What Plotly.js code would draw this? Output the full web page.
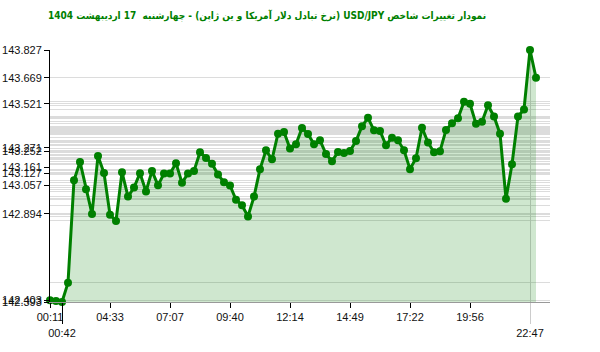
<!DOCTYPE html>
<html>
<head>
<meta charset="utf-8">
<script src="https://cdn.plot.ly/plotly-3.0.1.min.js"></script>
<style>html,body{margin:0;padding:0;background:#fff;}#chart{width:600px;height:352px;}</style>
</head>
<body>
<div id="chart"></div>
<script>
// Sequence index of each reading (0..81)
const values = [
  142.403, 142.398, 142.393, 142.502, 143.086, 143.190, 143.035, 142.894, 143.224, 143.127,
  142.890, 142.854, 143.132, 142.993, 143.044, 143.126, 143.022, 143.139, 143.057, 143.124,
  143.124, 143.183, 143.071, 143.124, 143.139, 143.245, 143.213, 143.180, 143.118, 143.075,
  143.056, 142.975, 142.944, 142.880, 142.993, 143.149, 143.256, 143.205, 143.351, 143.360,
  143.266, 143.290, 143.383, 143.349, 143.290, 143.313, 143.235, 143.194, 143.247, 143.241,
  143.252, 143.309, 143.393, 143.441, 143.370, 143.366, 143.285, 143.328, 143.313, 143.256,
  143.149, 143.211, 143.385, 143.301, 143.245, 143.251, 143.372, 143.410, 143.438, 143.532,
  143.521, 143.407, 143.419, 143.513, 143.449, 143.351, 142.980, 143.177, 143.449, 143.489,
  143.827, 143.669
];
const indices = values.map((v, i) => i);

// Regular time ticks (index -> label)
const tickIdx = [0, 10, 20, 30, 40, 50, 60, 70];
const tickTimes = ["00:11", "04:33", "07:07", "09:40", "12:14", "14:49", "17:22", "19:56"];
// Lower-row labels: minimum and maximum time
const minTime = "00:42";
const maxTime = "22:47";

// Labelled price levels on the y axis
const yLabelVals = [143.827, 143.669, 143.521, 143.271, 143.252, 143.161, 143.127, 143.057, 142.894, 142.403, 142.393];
const yLabelText = ["143.827", "143.669", "143.521", "143.271", "143.252", "143.161", "143.127", "143.057", "142.894", "142.403", "142.393"];

const titleText = "نمودار تغییرات شاخص USD/JPY (نرخ تبادل دلار آمریکا و ین ژاپن) - چهارشنبه  17 اردیبهشت 1404";

const minV = Math.min(...values);
const maxV = Math.max(...values);
const minI = values.indexOf(minV);
const maxI = values.indexOf(maxV);

const trace = {
  x: indices,
  y: values,
  type: "scatter",
  mode: "lines+markers",
  line: {color: "#008000", width: 3},
  marker: {color: "#008000", size: 8},
  fill: "tozeroy",
  fillcolor: "rgba(0,128,0,0.19)",
  cliponaxis: false,
  hoverinfo: "skip"
};

const font = {family: "Liberation Sans, Arial, sans-serif", size: 11, color: "#111"};
const xr = [0, 500 / 6];

const layout = {
  width: 600,
  height: 352,
  margin: {l: 50, r: 50, t: 50, b: 50},
  paper_bgcolor: "#fff",
  plot_bgcolor: "#fff",
  showlegend: false,
  font: font,
  title: {
    text: "\u202B" + titleText + "\u202C",
    font: {family: "DejaVu Sans Condensed, DejaVu Sans, sans-serif", size: 10, color: "#008000", weight: "bold"},
    xref: "container", yref: "container",
    x: 267 / 600, xanchor: "center",
    y: 1 - 15 / 352, yanchor: "middle"
  },
  xaxis: {
    range: xr,
    tickvals: tickIdx,
    ticktext: tickTimes,
    ticks: "outside", ticklen: 5, tickcolor: "#000", tickwidth: 1,
    showgrid: false, zeroline: false,
    showline: true, linecolor: "#999", linewidth: 1,
    tickfont: font
  },
  xaxis2: {
    overlaying: "x", matches: "x", anchor: "y", side: "bottom",
    range: xr,
    tickvals: [minI],
    ticktext: [minTime],
    ticks: "outside", ticklen: 21, tickcolor: "#000", tickwidth: 1,
    showgrid: false, zeroline: false, showline: false,
    tickfont: font
  },
  xaxis3: {
    overlaying: "x", matches: "x", anchor: "y", side: "bottom",
    range: xr,
    tickvals: [maxI],
    ticktext: [maxTime],
    ticks: "outside", ticklen: 21, tickcolor: "#ccc", tickwidth: 1,
    showgrid: true, gridcolor: "#cfcfcf", gridwidth: 1,
    zeroline: false, showline: false,
    tickfont: font
  },
  yaxis: {
    range: [minV, maxV],
    tickvals: values,
    showticklabels: false,
    ticks: "",
    showgrid: true, gridcolor: "#dcdcdc", gridwidth: 1,
    zeroline: false,
    showline: true, linecolor: "#000", linewidth: 1
  },
  yaxis2: {
    overlaying: "y", matches: "y", anchor: "x", side: "left",
    range: [minV, maxV],
    tickvals: yLabelVals,
    ticktext: yLabelText,
    ticks: "outside", ticklen: 5, tickcolor: "#000", tickwidth: 1,
    showgrid: false, zeroline: false, showline: false,
    tickfont: font
  }
};

// ghost traces so the overlay axes are drawn
const ghost2 = {x: [minI], y: [minV], xaxis: "x2", yaxis: "y", mode: "markers", marker: {opacity: 0}, hoverinfo: "skip"};
const ghost3 = {x: [maxI], y: [maxV], xaxis: "x3", yaxis: "y2", mode: "markers", marker: {opacity: 0}, hoverinfo: "skip"};

Plotly.newPlot("chart", [ghost2, ghost3, trace], layout, {staticPlot: true, displayModeBar: false});
</script>
</body>
</html>
